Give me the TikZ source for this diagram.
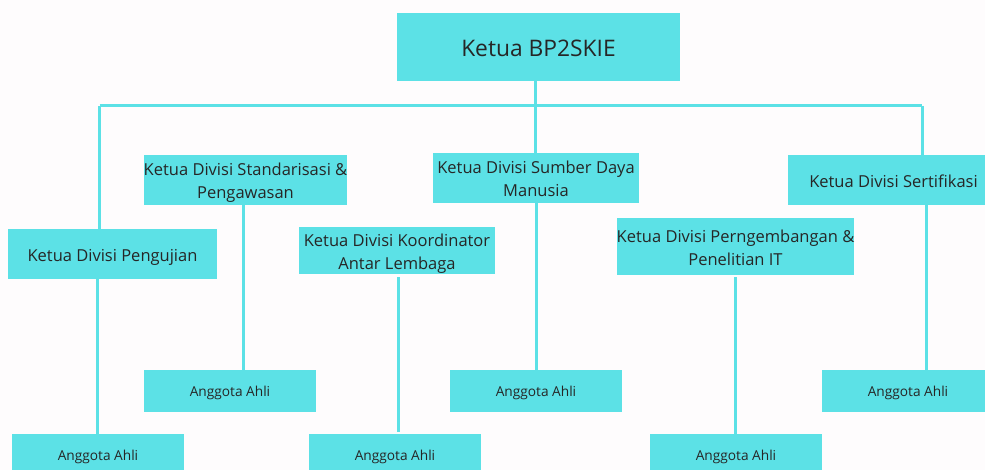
\documentclass[tikz,border=0pt]{standalone}
\usepackage{fontspec}
\setmainfont{Open Sans}
\definecolor{tq}{HTML}{5CE1E6}
\definecolor{txt}{HTML}{262626}
\definecolor{bg}{HTML}{FEFCFD}
\newcommand\bxtext[2]{\raisebox{-#1}[\height][\depth]{\begin{tabular}{@{}c@{}}#2\end{tabular}}}
\begin{document}
\begin{tikzpicture}[x=1pt,y=-1pt,
  box/.style={fill=tq, inner sep=0pt, text=txt, align=center, font=\fontsize{16.5}{23}\selectfont},
  top/.style={box, font=\fontsize{22.8}{28}\selectfont},
  member/.style={box, minimum width=172pt, minimum height=42pt, font=\fontsize{13.7}{16}\selectfont},
  conn/.style={draw=tq, line width=3pt}]
\clip (0,0) rectangle (985,470);
\fill[bg] (0,0) rectangle (985,470);

% nodes
\node[top, minimum width=283pt, minimum height=68pt] (T) at (538.5,47) {\bxtext{4pt}{Ketua BP2SKIE}};
\node[box, minimum width=203pt, minimum height=50pt] (S) at (245.5,180) {\bxtext{2.5pt}{Ketua Divisi Standarisasi \&\\Pengawasan}};
\node[box, minimum width=196pt, minimum height=47pt] (K) at (397,250.5) {\bxtext{2.5pt}{Ketua Divisi Koordinator\\Antar Lembaga}};
\node[box, minimum width=206pt, minimum height=50pt] (M) at (536,178) {\bxtext{2.5pt}{Ketua Divisi Sumber Daya\\Manusia}};
\node[box, minimum width=237pt, minimum height=57pt] (P) at (735.5,246.5) {\bxtext{2.5pt}{Ketua Divisi Perngembangan \&\\Penelitian IT}};
\node[box, minimum width=211pt, minimum height=50pt] (C) at (893.5,180) {\bxtext{2.5pt}{Ketua Divisi Sertifikasi}};
\node[box, minimum width=209pt, minimum height=50pt] (U) at (112.5,254) {\bxtext{2.5pt}{Ketua Divisi Pengujian}};

\node[member] (A1) at (98,455) {\bxtext{2pt}{Anggota Ahli}};
\node[member] (A2) at (230,391) {\bxtext{2pt}{Anggota Ahli}};
\node[member] (A3) at (395,455) {\bxtext{2pt}{Anggota Ahli}};
\node[member] (A4) at (536,391) {\bxtext{2pt}{Anggota Ahli}};
\node[member] (A5) at (736,455) {\bxtext{2pt}{Anggota Ahli}};
\node[member] (A6) at (908,391) {\bxtext{2pt}{Anggota Ahli}};

% bar
\coordinate (bl) at (99.5,106);
\coordinate (br) at (922,106);
\draw[conn] (bl) -- (br);
\draw[conn] (T.south -| 535,0) -- (M.north -| 535,0);
\draw[conn] (bl) -- (U.north -| bl);
\draw[conn] (S.north -| 245,101) -- (S.north -| 245,0);
\draw[conn] (K.north -| 396,106) -- (K.north -| 396,0);
\draw[conn] (P.north -| 737,101) -- (P.north -| 737,0);
\draw[conn] (br) -- (C.north -| br);

% stems to members
\draw[conn] (U.south -| 97,0) -- (A1.north -| 97,0);
\draw[conn] (S.south -| 243,0) -- (A2.north -| 243,0);
\draw[conn] ([yshift=-3pt]K.south -| 398,0) -- ([yshift=2pt]A3.north -| 398,0);
\draw[conn] (M.south -| 536,0) -- (A4.north -| 536,0);
\draw[conn] ([yshift=-2pt]P.south -| 735,0) -- (A5.north -| 735,0);
\draw[conn] (C.south -| 926,0) -- (A6.north -| 926,0);
\end{tikzpicture}
\end{document}
